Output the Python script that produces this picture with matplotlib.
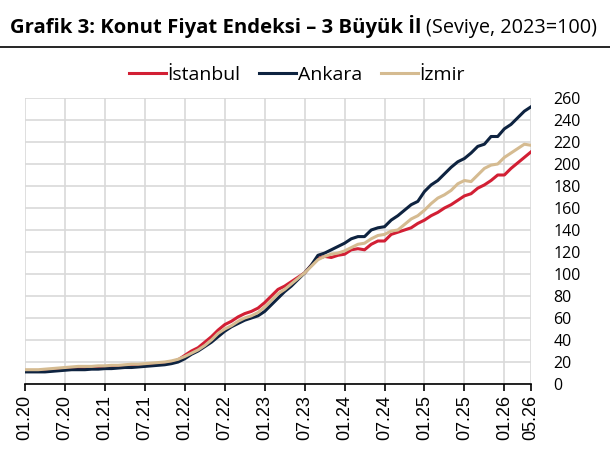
import numpy as np
import matplotlib.pyplot as plt
from matplotlib.ticker import MultipleLocator

# monthly index values, 01.20 .. 05.26
istanbul = [12, 12, 12, 12.5, 13, 13.5, 14, 14.5, 15, 15, 15, 15.5,
            15.5, 16, 16, 16.5, 17, 17, 17.5, 18, 18.5, 19, 20, 22,
            26, 30, 33, 38, 43, 49, 54, 57, 61, 64, 66, 69,
            74, 80, 86, 89, 93, 97, 101, 108, 114, 116, 115, 117,
            118, 122, 123, 122, 127, 130, 130, 136, 138, 140, 142, 146,
            149, 153, 156, 160, 163, 167, 171, 173, 178, 181, 185, 190,
            190, 196, 201, 206, 211]
ankara = [11, 11, 11, 11, 11.5, 12, 12.5, 13, 13, 13, 13.5, 13.5,
          14, 14, 14.5, 15, 15, 15.5, 16, 16.5, 17, 17.5, 18.5, 20,
          23, 27, 30, 34, 38, 43, 48, 52, 55, 58, 60, 62,
          66, 72, 78, 84, 89, 95, 101, 108, 117, 119, 122, 125,
          128, 132, 134, 134, 140, 142, 143, 149, 153, 158, 163, 166,
          175, 181, 185, 191, 197, 202, 205, 210, 216, 218, 225, 225,
          232, 236, 242, 248, 252]
izmir = [13, 13, 13, 13.5, 14, 14.5, 15, 15.5, 16, 16, 16, 16.5,
         16.5, 17, 17, 17.5, 18, 18, 18.5, 19, 19.5, 20, 21, 22.5,
         25, 28, 31, 35, 40, 46, 50, 53, 57, 60, 62, 65,
         70, 76, 82, 86, 91, 96, 101, 107, 113, 116, 118, 119,
         121, 124, 127, 128, 132, 135, 136, 139, 140, 145, 150, 153,
         158, 164, 169, 172, 176, 182, 185, 184, 190, 196, 199, 200,
         206, 210, 214, 218, 217]

tick_pos = [0, 6, 12, 18, 24, 30, 36, 42, 48, 54, 60, 66, 72, 76]
tick_labels = ['01.20', '07.20', '01.21', '07.21', '01.22', '07.22', '01.23',
               '07.23', '01.24', '07.24', '01.25', '07.25', '01.26', '05.26']

months = np.arange(len(istanbul))

fig = plt.figure(figsize=(6.1, 4.72), dpi=100)
ax = fig.add_axes([25/610, 1 - 384/472, (531 - 25)/610, (384 - 98)/472])

ax.plot(months, istanbul, color='#d21f34', lw=2.2, label='İstanbul', zorder=3)
ax.plot(months, ankara, color='#0e2340', lw=2.2, label='Ankara', zorder=3)
ax.plot(months, izmir, color='#d5bb91', lw=2.2, label='İzmir', zorder=3)

ax.set_xlim(0, 76)
ax.set_ylim(0, 260)
ax.yaxis.set_major_locator(MultipleLocator(20))
ax.yaxis.tick_right()
ax.tick_params(axis='y', length=0, pad=16, labelsize=11.5)
for t in ax.get_yticklabels():
    t.set_fontfamily('Open Sans')
ax.set_xticks(tick_pos)
ax.set_xticklabels(tick_labels, rotation=90, family='Liberation Sans', fontsize=13)
ax.tick_params(axis='x', length=5, width=1.2, color='black', pad=3)

ax.grid(True, color='#d9d9d9', lw=1.2, zorder=0)
ax.set_axisbelow(True)
for s in ['top', 'right', 'left']:
    ax.spines[s].set_visible(False)
ax.spines['bottom'].set_color('black')
ax.spines['bottom'].set_linewidth(1.2)

# title: bold part then normal part right after it
t1 = fig.text(10/610, 1 - 33/472, 'Grafik 3: Konut Fiyat Endeksi – 3 Büyük İl',
              family='Open Sans', weight='bold', fontsize=14.6, va='baseline')
fig.canvas.draw()
bb = t1.get_window_extent()
fig.text((bb.x1 + 5)/610, 1 - 33/472, '(Seviye, 2023=100)',
         family='Open Sans', fontsize=14.3, va='baseline')
fig.add_artist(plt.Line2D([0, 1], [1 - 47/472, 1 - 47/472], color='black', lw=1.2))

fig.legend(loc='center', bbox_to_anchor=(297/610, 1 - 75/472), ncol=3, frameon=False,
           prop={'family': 'Open Sans', 'size': 14}, handlelength=1.9,
           handletextpad=0.1, columnspacing=0.95)

fig.savefig('out.png', dpi=100)
